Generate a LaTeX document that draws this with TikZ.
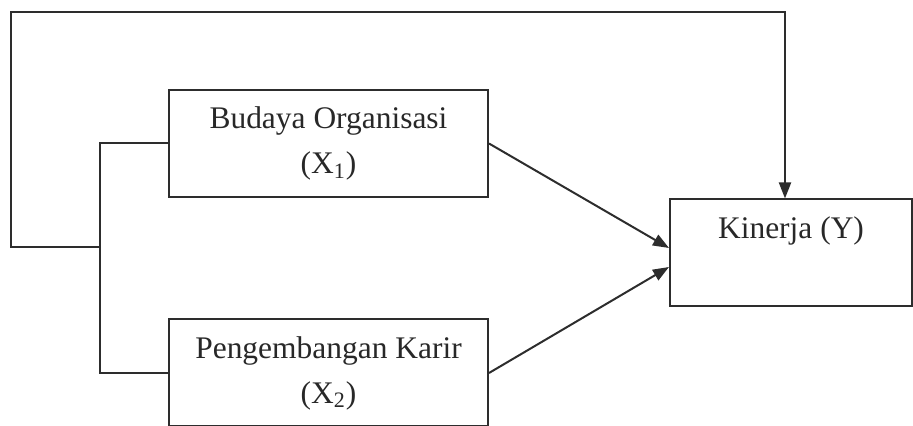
\documentclass[tikz,border=0pt]{standalone}
\usepackage{fontspec}
\setmainfont{Liberation Serif}
\usepackage{xcolor}
\usepackage{tikz}
\usetikzlibrary{positioning, arrows.meta}
\definecolor{garis}{RGB}{45, 45, 45}
\definecolor{teks}{RGB}{40, 40, 40}

\begin{document}
\begin{tikzpicture}[
  font=\fontsize{17.9}{25.6}\selectfont,
  kotak/.style={draw=garis, line width=0.04cm, align=center, inner sep=4pt, text=teks, minimum width=#1, minimum height=2.14cm},
  kotak/.default=6.38cm,
  panah/.style={-{Triangle[length=0.32cm, width=0.24cm]}, line width=0.04cm, garis},
  garisan/.style={line width=0.04cm, garis}
]
\useasboundingbox (0,0) rectangle (18.26,-8.52);
% Variabel bebas dan terikat
\node[kotak] (bo) at (6.57,-2.87) {Budaya Organisasi\\(X\textsubscript{1})};
\node[kotak] (pk) at (6.57,-7.46) {Pengembangan Karir\\(X\textsubscript{2})};
\node[kotak=4.84cm] (kin) at (15.82,-5.06) {Kinerja (Y)\\\phantom{(Y)}};
% Titik bantu
\coordinate (cabang) at (2.0,-4.94);
\coordinate (atas) at (0.22,-0.24);
% Garis dan panah
\draw[garisan] (bo.west) -| (cabang) |- (pk.west);
\draw[panah] (cabang) -| (atas) -| ([xshift=-0.12cm]kin.north);
\draw[panah] (bo.east) -- ([yshift=0.1cm]kin.west);
\draw[panah] (pk.east) -- ([yshift=-0.28cm]kin.west);
\end{tikzpicture}
\end{document}
